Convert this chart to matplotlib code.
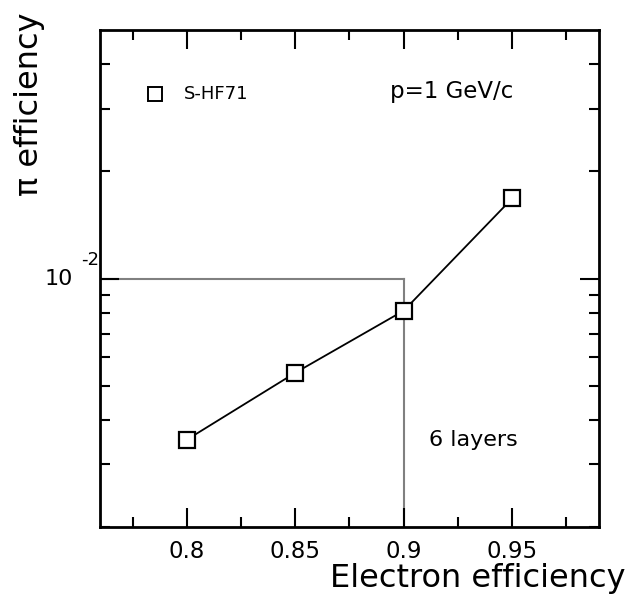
import numpy as np
import matplotlib
matplotlib.use("Agg")
import matplotlib.pyplot as plt
import matplotlib.transforms as mtransforms
from matplotlib.ticker import FixedLocator, NullFormatter

plt.rcParams['font.family'] = ['DejaVu Sans']

# Data
electron_eff = [0.80, 0.85, 0.90, 0.95]
pion_eff = [0.00352, 0.00543, 0.00812, 0.0168]

series_label = "S-HF71"
momentum_text = "p=1 GeV/c"
layers_text = "6 layers"

ref_x = 0.90
ref_y = 0.01

fig = plt.figure(figsize=(6.3, 5.98), dpi=100)
ax = fig.add_axes([0.1587, 0.1187, 0.7921, 0.8311])

ax.set_yscale("log")
ax.set_xlim(0.76, 0.99)
ax.set_ylim(0.002, 0.05)

# gray guide lines at 90% electron efficiency
ax.plot([0.76, ref_x], [ref_y, ref_y], color="#808080", lw=1.5, zorder=1)
ax.plot([ref_x, ref_x], [0.002, ref_y], color="#808080", lw=1.5, zorder=1)

ax.plot(electron_eff, pion_eff, color="black", lw=1.3, marker="s", markersize=11,
        markerfacecolor="white", markeredgecolor="black", markeredgewidth=1.6, zorder=3)

# legend entry drawn by hand
ax.plot([0.7855], [0.0330], marker="s", markersize=10, markerfacecolor="none",
        markeredgecolor="black", markeredgewidth=1.4, linestyle="none")
ax.text(0.7985, 0.0330, series_label, fontsize=13, va="center", ha="left")
ax.text(0.8935, 0.0335, momentum_text, fontsize=16.5, va="center", ha="left")
ax.text(0.9115, 0.00352, layers_text, fontsize=16, va="center", ha="left")

# ticks
ax.xaxis.set_major_locator(FixedLocator([0.8, 0.85, 0.9, 0.95]))
ax.xaxis.set_minor_locator(FixedLocator([0.775, 0.825, 0.875, 0.925, 0.975]))
ax.set_xticklabels(["0.8", "0.85", "0.9", "0.95"])
ax.yaxis.set_major_locator(FixedLocator([0.01]))
ax.yaxis.set_minor_locator(FixedLocator([0.002, 0.003, 0.004, 0.005, 0.006, 0.007,
                                         0.008, 0.009, 0.02, 0.03, 0.04]))
ax.yaxis.set_minor_formatter(NullFormatter())
ax.set_yticklabels([""])

# "10" with a raised "-2", as in the original
ytr = mtransforms.blended_transform_factory(ax.transAxes, ax.transData)
ax.text(-0.054, ref_y, "10", fontsize=16, ha="right", va="center", transform=ytr)
ax.text(-0.002, ref_y * 1.13, "-2", fontsize=13, ha="right", va="center", transform=ytr)

ax.tick_params(which="both", direction="in", top=True, right=True, width=1.5)
ax.tick_params(which="major", length=14, labelsize=16.5, pad=9)
ax.tick_params(which="minor", length=7)
for s in ax.spines.values():
    s.set_linewidth(2)

fig.text(626 / 630, 1 - 578 / 598, "Electron efficiency", fontsize=23,
         ha="right", va="center")
fig.text(30 / 630, 1 - 12 / 598, "π efficiency", fontsize=23, rotation=90,
         ha="center", va="top")

fig.savefig("out.png", dpi=100)
